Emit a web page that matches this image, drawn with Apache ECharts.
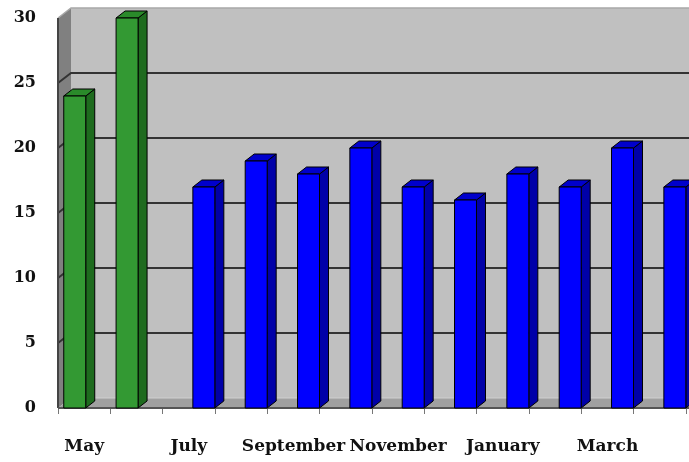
<!DOCTYPE html>
<html>
<head>
<meta charset="utf-8">
<script src="https://cdn.jsdelivr.net/npm/echarts@6/dist/echarts.min.js"></script>
<style>html,body{margin:0;padding:0;background:#fff}#c{width:689px;height:462px}</style>
</head>
<body>
<div id="c"></div>
<script>
const months = ['May','June','July','August','September','October','November','December','January','February','March','April'];
const greenValues = [24, 30, null, null, null, null, null, null, null, null, null, null];
const blueValues = [null, null, 17, 19, 18, 20, 17, 16, 18, 17, 20, 17];
const yTicks = [0, 5, 10, 15, 20, 25, 30];

const WALL_DX = 13, WALL_DY = -10;
const BAR_DX = 9, BAR_DY = -7;

function renderWalls(params, api) {
  const cs = params.coordSys;
  const x0 = cs.x, x1 = cs.x + cs.width, y0 = cs.y, y1 = cs.y + cs.height;
  const ch = [];
  ch.push({type:'rect', shape:{x:x0+WALL_DX, y:y0+WALL_DY, width:x1-x0+20, height:y1-y0}, style:{fill:'#C0C0C0'}});
  ch.push({type:'polygon', shape:{points:[[x0,y0],[x0+WALL_DX,y0+WALL_DY],[x0+WALL_DX,y1+WALL_DY],[x0,y1]]}, style:{fill:'#808080'}});
  ch.push({type:'polygon', shape:{points:[[x0,y1],[x0+WALL_DX,y1+WALL_DY],[x1+WALL_DX+20,y1+WALL_DY],[x1+20,y1]]}, style:{fill:'#A0A0A0'}});
  yTicks.forEach(v => {
    if (v === 0) return;
    const y = api.coord([0, v])[1];
    const isTop = v === yTicks[yTicks.length-1];
    ch.push({type:'polyline', shape:{points:[[x0,y],[x0+WALL_DX,y+WALL_DY],[x1+WALL_DX+20,y+WALL_DY]]},
      style:{fill:null, stroke: isTop ? '#A8A8A8' : '#333333', lineWidth: isTop ? 1.5 : 2}});
  });
  ch.push({type:'line', shape:{x1:x0+WALL_DX, y1:y1+WALL_DY, x2:x1+WALL_DX+20, y2:y1+WALL_DY}, style:{stroke:'#D0D0D0', lineWidth:1}});
  ch.push({type:'line', shape:{x1:x0, y1:y0, x2:x0, y2:y1}, style:{stroke:'#444', lineWidth:2}});
  ch.push({type:'line', shape:{x1:x0, y1:y1, x2:x1+20, y2:y1}, style:{stroke:'#555', lineWidth:2}});
  return {type:'group', children:ch};
}

function makeBar(offsetFrac, widthFrac, front, side, top) {
  return function(params, api) {
    const v = api.value(1);
    if (v == null || isNaN(v)) return null;
    const idx = api.value(0);
    const base = api.coord([idx, 0]);
    const tp = api.coord([idx, v]);
    const band = api.size([1, 0])[0];
    const w = band * widthFrac;
    const xl = base[0] + band * offsetFrac - w / 2;
    const xr = xl + w;
    const yb = base[1], yt = tp[1];
    const st = {stroke:'#000', lineWidth:1, lineJoin:'miter'};
    return {type:'group', children:[
      {type:'polygon', shape:{points:[[xr,yt],[xr+BAR_DX,yt+BAR_DY],[xr+BAR_DX,yb+BAR_DY],[xr,yb]]}, style:Object.assign({fill:side}, st)},
      {type:'polygon', shape:{points:[[xl,yt],[xl+BAR_DX,yt+BAR_DY],[xr+BAR_DX,yt+BAR_DY],[xr,yt]]}, style:Object.assign({fill:top}, st)},
      {type:'rect', shape:{x:xl, y:yt, width:w, height:yb-yt}, style:Object.assign({fill:front}, st)}
    ]};
  };
}

const chart = echarts.init(document.getElementById('c'), null, {renderer:'canvas'});
chart.setOption({
  animation: false,
  backgroundColor: '#ffffff',
  grid: {left: 58, right: 3, top: 18, bottom: 54},
  xAxis: {
    type: 'category', data: months,
    axisLine: {show: false},
    axisTick: {show: true, interval: 0, length: 6, lineStyle: {color: '#777'}},
    axisLabel: {interval: 1, margin: 30, fontFamily: 'DejaVu Serif', fontWeight: 'bold', fontSize: 17, color: '#111'}
  },
  yAxis: {
    type: 'value', min: 0, max: 30, interval: 5,
    axisLine: {show: false}, axisTick: {show: false}, splitLine: {show: false},
    axisLabel: {margin: 22, fontFamily: 'DejaVu Serif', fontWeight: 'bold', fontSize: 16, color: '#111', padding: [8, 0, 0, 0]}
  },
  series: [
    {type: 'custom', z: 1, renderItem: renderWalls, data: [[0, 0]], silent: true},
    {type: 'custom', z: 3, renderItem: makeBar(-0.18, 0.42, '#339933', '#1E6B1E', '#2A8A2A'),
      data: greenValues.map((v, i) => [i, v == null ? NaN : v])},
    {type: 'custom', z: 3, renderItem: makeBar(0.287, 0.42, '#0000FF', '#0000A8', '#0000CC'),
      data: blueValues.map((v, i) => [i, v == null ? NaN : v])}
  ]
});
</script>
</body>
</html>
